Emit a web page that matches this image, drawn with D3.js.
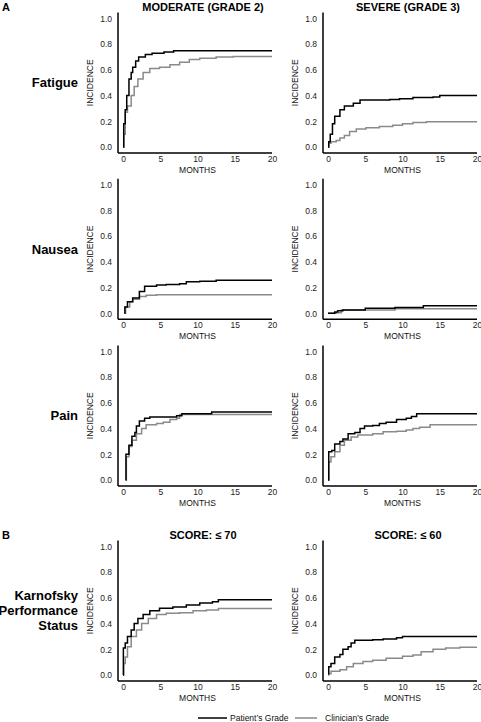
<!DOCTYPE html>
<html>
<head>
<meta charset="utf-8">
<script src="https://cdn.jsdelivr.net/npm/d3@7"></script>
<style>
  html, body { margin: 0; padding: 0; background: #fff; }
  svg { display: block; font-family: Arial, "Liberation Sans", sans-serif; }
</style>
</head>
<body>
<svg id="chart" width="481" height="722"></svg>
<script>
// ---------------- DATA ----------------
const monthTicks = [0, 5, 10, 15, 20];
const incidenceTicks = [0, 0.2, 0.4, 0.6, 0.8, 1.0];
const followUpEnd = 20;

const sectionLabels = ["A", "B"];
const columnTitlesA = ["MODERATE (GRADE 2)", "SEVERE (GRADE 3)"];
const columnTitlesB = ["SCORE: \u2264 70", "SCORE: \u2264 60"];
const rowLabels = [["Fatigue"], ["Nausea"], ["Pain"], ["Karnofsky", "Performance", "Status"]];
const seriesNames = ["Patient\u2019s Grade", "Clinician\u2019s Grade"];

// [months, cumulative incidence]
const fatigueModPatient = [[0,0],[0.1,0.18],[0.3,0.29],[0.5,0.4],[0.8,0.53],[1.1,0.58],[1.3,0.62],[1.7,0.67],[2.1,0.70],[3.0,0.72],[3.9,0.73],[5.5,0.74],[6.8,0.75]];
const fatigueModClinician = [[0,0],[0.1,0.1],[0.3,0.27],[0.6,0.32],[1.1,0.4],[1.5,0.47],[2.0,0.53],[2.7,0.58],[3.6,0.61],[4.9,0.62],[6.3,0.64],[7.6,0.66],[8.9,0.68],[10.3,0.69],[12.5,0.70],[14.8,0.705]];
const fatigueSevPatient = [[0,0],[0.1,0.04],[0.3,0.1],[0.6,0.18],[0.9,0.24],[1.6,0.29],[2.2,0.32],[3.4,0.34],[4.3,0.365],[8.3,0.37],[9.6,0.375],[11.4,0.385],[14.1,0.39],[15,0.40]];
const fatigueSevClinician = [[0,0],[0.1,0.03],[0.4,0.04],[1.1,0.05],[1.6,0.07],[2.2,0.09],[2.9,0.12],[3.8,0.14],[5.1,0.15],[6.9,0.16],[8.7,0.17],[10,0.18],[11.4,0.19],[13.2,0.197]];
const nauseaModPatient = [[0.2,0],[0.25,0.05],[0.6,0.09],[1.3,0.12],[2.2,0.17],[2.9,0.21],[4.5,0.22],[5.8,0.225],[7.6,0.23],[8.5,0.245],[10.3,0.25],[12.5,0.257]];
const nauseaModClinician = [[0.2,0],[0.35,0.05],[0.9,0.09],[1.3,0.11],[2.2,0.13],[3.1,0.14],[4.5,0.145]];
const nauseaSevPatient = [[0,0],[0.9,0.01],[1.3,0.02],[2,0.025],[5,0.04],[9,0.045],[12.8,0.058]];
const nauseaSevClinician = [[0,0],[1.1,0.005],[1.8,0.025],[9,0.035]];
const painModPatient = [[0.35,0],[0.4,0.2],[0.8,0.27],[1.2,0.34],[1.6,0.37],[1.8,0.42],[2.2,0.46],[2.9,0.48],[3.6,0.49],[7.2,0.5],[7.9,0.515],[11.9,0.53]];
const painModClinician = [[0.35,0],[0.45,0.18],[0.8,0.26],[1.2,0.31],[1.8,0.36],[2.5,0.4],[3.1,0.43],[4.5,0.44],[5.4,0.45],[6.3,0.47],[7.2,0.48],[7.6,0.51]];
const painSevPatient = [[0,0],[0.1,0.22],[0.5,0.23],[0.9,0.28],[1.6,0.3],[2,0.32],[2.7,0.36],[3.6,0.37],[4.3,0.4],[4.9,0.42],[6,0.425],[6.9,0.44],[7.8,0.45],[9.2,0.47],[10.5,0.48],[11.2,0.495],[11.9,0.515]];
const painSevClinician = [[0,0],[0.1,0.14],[0.4,0.18],[0.9,0.22],[1.6,0.27],[2.2,0.31],[3.1,0.335],[4,0.35],[6,0.36],[7.4,0.375],[9.2,0.38],[10.5,0.39],[11.4,0.4],[12.3,0.41],[13.7,0.43]];
const kps70Patient = [[0,0],[0.05,0.21],[0.3,0.25],[0.6,0.3],[1.1,0.35],[1.5,0.4],[2,0.44],[2.7,0.47],[3.6,0.5],[4.9,0.52],[6.7,0.53],[8.5,0.545],[10.3,0.56],[12,0.57],[12.8,0.585]];
const kps70Clinician = [[0,0],[0.1,0.09],[0.3,0.14],[0.6,0.22],[1.1,0.3],[1.8,0.35],[2.5,0.4],[3.4,0.44],[4.5,0.47],[5.8,0.48],[7.6,0.485],[9.4,0.5],[11.2,0.505],[12.8,0.517]];
const kps60Patient = [[0,0.01],[0.1,0.065],[0.4,0.09],[0.9,0.14],[1.6,0.16],[2,0.2],[2.7,0.22],[3.1,0.25],[3.6,0.27],[6,0.275],[7.4,0.28],[9.2,0.29],[10,0.30]];
const kps60Clinician = [[0,0],[0.1,0.01],[0.4,0.03],[1.6,0.04],[2.5,0.065],[3.4,0.09],[4.7,0.105],[6,0.115],[7.8,0.13],[10,0.145],[11.4,0.155],[12.5,0.18],[14.1,0.2],[15.8,0.21],[17.7,0.215]];

const panelSeries = [
  [[fatigueModPatient, fatigueModClinician], [fatigueSevPatient, fatigueSevClinician]],
  [[nauseaModPatient, nauseaModClinician], [nauseaSevPatient, nauseaSevClinician]],
  [[painModPatient, painModClinician], [painSevPatient, painSevClinician]],
  [[kps70Patient, kps70Clinician], [kps60Patient, kps60Clinician]]
];

// ---------------- LAYOUT ----------------
const seriesColors = ["#000000", "#8a8a8a"];
const colX0 = [123, 328];      // pixel of month 0
const plotW = 149;             // width of 0..20 months
const rowY0 = [147, 313.3, 480, 675];  // pixel of incidence 0
const plotH = 128.5;
const fontMain = 'Arial, "Liberation Sans", sans-serif';

const svg = d3.select("#chart");

const lineGen = (xs, ys) => d3.line()
  .x(d => xs(d[0]))
  .y(d => ys(d[1]))
  .curve(d3.curveStepAfter);

panelSeries.forEach((row, r) => {
  row.forEach((pair, c) => {
    const x = d3.scaleLinear().domain([0, 20]).range([colX0[c], colX0[c] + plotW]);
    const y = d3.scaleLinear().domain([0, 1]).range([rowY0[r], rowY0[r] - plotH]);
    const g = svg.append("g");

    const axisX = x(0) - 5;
    const axisY = y(0) + 6;
    // axis lines
    g.append("line").attr("x1", axisX).attr("x2", axisX)
      .attr("y1", y(1) - 6).attr("y2", axisY)
      .attr("stroke", "#000").attr("stroke-width", 1.5);
    g.append("line").attr("x1", axisX).attr("x2", x(20))
      .attr("y1", axisY).attr("y2", axisY)
      .attr("stroke", "#000").attr("stroke-width", 1.5);

    // y tick labels
    const yAxis = d3.axisLeft(y).tickValues(incidenceTicks).tickFormat(d3.format(".1f"))
      .tickSizeInner(0).tickSizeOuter(0).tickPadding(0);
    const ya = g.append("g").attr("transform", `translate(${axisX - 6},0)`).call(yAxis);
    ya.select(".domain").remove();
    ya.selectAll("text").attr("font-size", 8.5).attr("font-family", fontMain).attr("fill", "#222");

    // x tick labels
    const xAxis = d3.axisBottom(x).tickValues(monthTicks).tickFormat(d3.format("d"))
      .tickSizeInner(0).tickSizeOuter(0).tickPadding(0);
    const xa = g.append("g").attr("transform", `translate(0,${axisY + 3})`).call(xAxis);
    xa.select(".domain").remove();
    xa.selectAll("text").attr("font-size", 8.5).attr("font-family", fontMain).attr("fill", "#222");

    // axis titles
    g.append("text").attr("x", (x(0) + x(20)) / 2).attr("y", axisY + 20)
      .attr("text-anchor", "middle").attr("font-size", 8.5).attr("fill", "#111")
      .text("MONTHS");
    g.append("text")
      .attr("transform", `translate(${axisX - 25},${y(0.5)}) rotate(-90)`)
      .attr("text-anchor", "middle").attr("font-size", 8.5).attr("fill", "#111")
      .text("INCIDENCE");

    // curves: clinician first, patient on top
    [1, 0].forEach(si => {
      const data = pair[si];
      const pts = data.concat([[followUpEnd, data[data.length - 1][1]]]);
      g.append("path").datum(pts)
        .attr("d", lineGen(x, y))
        .attr("fill", "none")
        .attr("stroke", seriesColors[si])
        .attr("stroke-width", 1.5);
    });
  });

  // row label
  const yMid = rowY0[r] - plotH / 2;
  const lines = rowLabels[r];
  const lh = 15;
  lines.forEach((t, i) => {
    svg.append("text")
      .attr("x", 78)
      .attr("y", yMid + (i - (lines.length - 1) / 2) * lh + 4.5)
      .attr("text-anchor", "end")
      .attr("font-size", 13).attr("font-weight", "bold").attr("fill", "#000")
      .text(t);
  });
});

// column titles
const titleX = [203, 408];
columnTitlesA.forEach((t, i) => {
  svg.append("text").attr("x", titleX[i]).attr("y", 11)
    .attr("text-anchor", "middle").attr("font-size", 11).attr("font-weight", "bold").text(t);
});
columnTitlesB.forEach((t, i) => {
  svg.append("text").attr("x", titleX[i]).attr("y", 539)
    .attr("text-anchor", "middle").attr("font-size", 11).attr("font-weight", "bold").text(t);
});

// section labels
svg.append("text").attr("x", 2).attr("y", 11).attr("font-size", 11).attr("font-weight", "bold").text(sectionLabels[0]);
svg.append("text").attr("x", 2).attr("y", 539).attr("font-size", 11).attr("font-weight", "bold").text(sectionLabels[1]);

// legend
const legY = 718;
const legItems = [{x1: 198, x2: 227, tx: 230}, {x1: 295, x2: 317, tx: 325}];
legItems.forEach((it, i) => {
  svg.append("line").attr("x1", it.x1).attr("x2", it.x2).attr("y1", legY).attr("y2", legY)
    .attr("stroke", seriesColors[i]).attr("stroke-width", 1.5);
  svg.append("text").attr("x", it.tx).attr("y", legY + 3).attr("font-size", 8.5).attr("fill", "#111")
    .text(seriesNames[i]);
});
</script>
</body>
</html>
